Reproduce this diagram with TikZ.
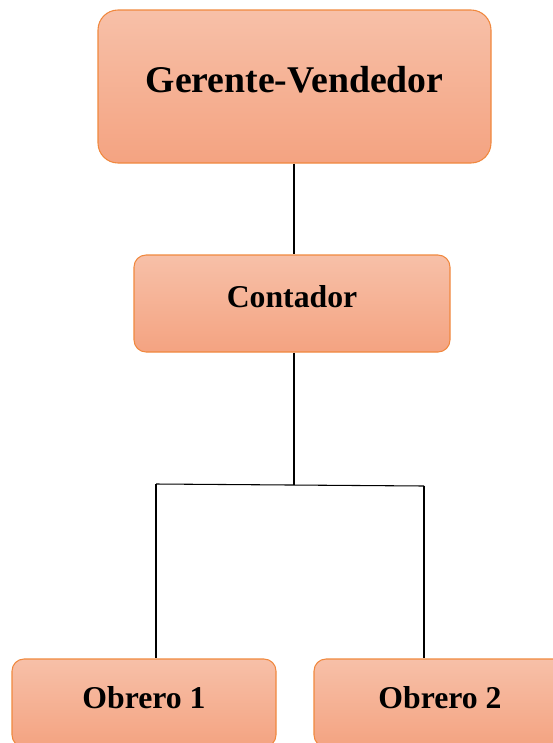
\documentclass[tikz,border=0pt]{standalone}
\usepackage{fontspec}
\setmainfont{Liberation Serif}
\definecolor{boxtop}{HTML}{F7C0A8}
\definecolor{boxbot}{HTML}{F4A381}
\definecolor{boxline}{HTML}{F0883E}
\begin{document}
\begin{tikzpicture}[x=0.75pt,y=-0.75pt,
  orgbox/.style={draw=boxline,line width=0.8pt,top color=boxtop,bottom color=boxbot,
    inner sep=0pt,font=\bfseries},
  link/.style={draw=black,line width=0.8pt}]
\useasboundingbox (0,0) rectangle (553,743);

\node[orgbox,rounded corners=15pt,minimum width=294.75pt,minimum height=114.75pt,
  font=\fontsize{28.3}{32}\selectfont\bfseries,text height=16pt,text depth=7.75pt]
  (gerente) at (294.5,86.5) {Gerente-Vendedor};
\node[orgbox,rounded corners=9pt,minimum width=237pt,minimum height=72.75pt,
  font=\fontsize{23.8}{27}\selectfont\bfseries,text height=13pt,text depth=7.75pt]
  (contador) at (292,303.5) {Contador};
\node[orgbox,rounded corners=9pt,minimum width=198pt,minimum height=66pt,
  font=\fontsize{23.8}{27}\selectfont\bfseries,text height=14pt,text depth=6.25pt]
  (obrero1) at (144,703) {Obrero 1};
\node[orgbox,rounded corners=9pt,minimum width=189pt,minimum height=66pt,
  font=\fontsize{23.8}{27}\selectfont\bfseries,text height=14pt,text depth=6.25pt]
  (obrero2) at (440,703) {Obrero 2};

% junction points of the bus line
\coordinate (jn) at (294,485);
\coordinate (bl) at (156,484);
\coordinate (br) at (424,486);

\draw[link] (gerente.south -| jn) -- (contador.north -| jn);
\draw[link] (contador.south -| jn) -- (jn);
\draw[link] (bl) -- (br);
\draw[link] (bl) -- (bl |- obrero1.north);
\draw[link] (br) -- (br |- obrero2.north);
\end{tikzpicture}
\end{document}
